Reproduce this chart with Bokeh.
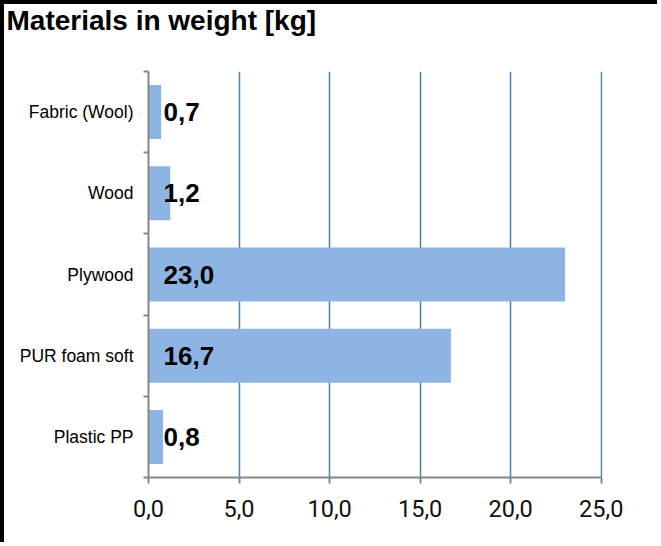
from bokeh.plotting import figure
from bokeh.models import (FactorRange, Range1d, LinearAxis, CategoricalAxis, FixedTicker,
                          ColumnDataSource, Grid, Title)
from bokeh.core.properties import value
from bokeh.embed import file_html
from bokeh.resources import INLINE

# ---- data ----
title_text = "Materials in weight [kg]"
materials = ["Fabric (Wool)", "Wood", "Plywood", "PUR foam soft", "Plastic PP"]
weights_kg = [0.7, 1.2, 23.0, 16.7, 0.8]
x_ticks = [0, 5, 10, 15, 20, 25]
x_tick_labels = ["0,0", "5,0", "10,0", "15,0", "20,0", "25,0"]
value_labels = ["0,7", "1,2", "23,0", "16,7", "0,8"]

# ---- layout ----
W, H = 657, 542
BL, BR, BT, BB = 144, 59, 67, 69
XMAX = 25
X_PAD = 0.07
N = len(materials)

AXIS_COL = "#868686"
GRID_COL = "#4a7ebb"
BAR_COL = "#8eb4e3"

p = figure(width=W, height=H, output_backend="svg", toolbar_location=None,
           title=title_text,
           x_range=Range1d(0, XMAX + X_PAD),
           y_range=FactorRange(factors=materials[::-1]),
           x_axis_location=None, y_axis_location=None,
           min_border_left=BL, min_border_right=BR,
           min_border_top=BT, min_border_bottom=BB)
p.styles = {"border-top": "4px solid black", "border-left": "4px solid black"}
p.outline_line_color = None
p.background_fill_color = "white"
p.border_fill_color = "white"

# main title (outermost)
p.title.text_font = "Liberation Sans"
p.title.text_font_style = "bold"
p.title.text_font_size = "28px"
p.title.text_color = "#000000"
p.title.align = "left"
p.title.vertical_align = "top"
p.title.offset = -142
p.title.standoff = 0

# spacer between the title and the plot area
p.add_layout(Title(text=" ", text_font_size="1px", standoff=31), "above")

# remove default grids
for r in list(p.center):
    if isinstance(r, Grid):
        r.visible = False

# vertical grid lines
grid = Grid(dimension=0, ticker=FixedTicker(ticks=x_ticks[1:], minor_ticks=[]),
            grid_line_color=GRID_COL, grid_line_width=1.5)
p.add_layout(grid)

# x axis
xaxis = LinearAxis(ticker=FixedTicker(ticks=x_ticks, minor_ticks=[]),
                   bounds=(0, XMAX),
                   major_label_overrides={float(t): l for t, l in zip(x_ticks, x_tick_labels)},
                   axis_line_color=AXIS_COL, axis_line_width=2,
                   major_tick_line_color=AXIS_COL, major_tick_line_width=2,
                   major_tick_out=6, major_tick_in=0,
                   minor_tick_line_color=None,
                   major_label_standoff=16,
                   major_label_text_font="Roboto",
                   major_label_text_font_size="23.5px",
                   major_label_text_color="#111111")
p.add_layout(xaxis, "below")

# y axis: line + ticks at category boundaries (synthetic coordinates)
ytick_axis = LinearAxis(ticker=FixedTicker(ticks=list(range(N + 1)), minor_ticks=[]),
                        major_label_overrides={float(i): "" for i in range(N + 1)},
                        major_label_standoff=0,
                        axis_line_color=AXIS_COL, axis_line_width=2,
                        major_tick_line_color=AXIS_COL, major_tick_line_width=2,
                        major_tick_out=5, major_tick_in=0,
                        minor_tick_line_color=None)
p.add_layout(ytick_axis, "left")

# y axis: category labels
ycat = CategoricalAxis(axis_line_color=None, major_tick_line_color=None,
                       major_tick_out=0, major_tick_in=0,
                       major_label_standoff=10,
                       major_label_text_font="Liberation Sans",
                       major_label_text_font_size="17.5px",
                       major_label_text_color="#000000")
p.add_layout(ycat, "left")

src = ColumnDataSource(data=dict(material=materials, weight=weights_kg,
                                 base=[0.0] * N, label=value_labels))

p.hbar(y="material", left="base", right="weight", height=0.665, source=src,
       fill_color=BAR_COL, line_color=None)

p.text(x="base", y="material", text="label", source=src,
       x_offset=15, y_offset=0, text_align="left", text_baseline="middle",
       text_font=value("Liberation Sans"), text_font_style="bold",
       text_font_size="26px", text_color="#000000")

open("out.html", "w").write(file_html(p, INLINE))
